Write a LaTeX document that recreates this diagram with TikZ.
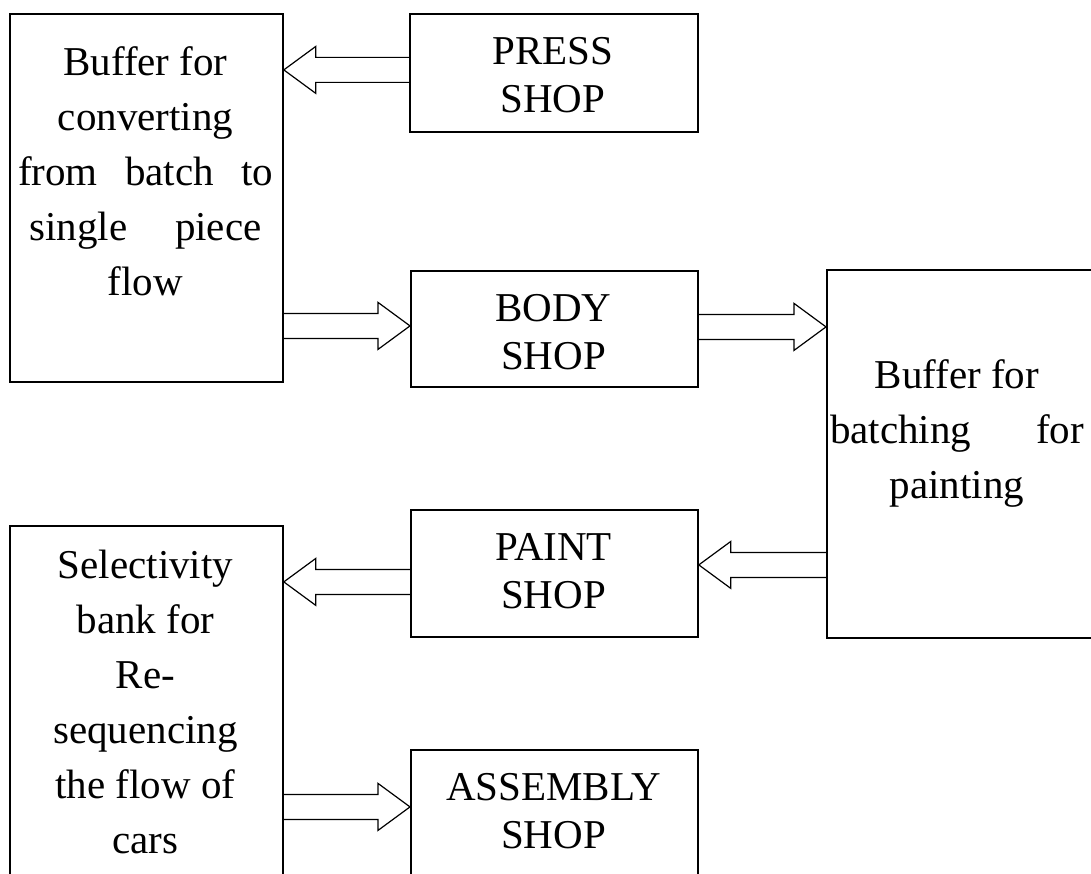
\documentclass[tikz,border=0pt]{standalone}
\usepackage{fontspec}
\setmainfont{Liberation Serif}
\usetikzlibrary{calc}
\tikzset{
  box/.style={draw, line width=1.8pt, rectangle, inner sep=0pt, anchor=north west},
  blk/.style={draw, line width=1.2pt, line join=miter},
  smalltxt/.style={font=\fontsize{41}{48}\selectfont, align=center, inner sep=0pt, anchor=north},
  talltxt/.style={font=\fontsize{41}{55}\selectfont, align=center, inner sep=0pt, anchor=north},
}
\newcommand\strt{\rule{0pt}{30pt}}
\newcommand\barrow[2]{%
  \draw[blk] let \p1=#1, \p2=#2, \p3=($#2!32pt!#1$) in
    (\x1,\y1+12.5pt) -- (\x3,\y1+12.5pt) -- (\x3,\y1+23.5pt) -- (\x2,\y1)
    -- (\x3,\y1-23.5pt) -- (\x3,\y1-12.5pt) -- (\x1,\y1-12.5pt);}
\begin{document}
\begin{tikzpicture}[x=1pt,y=-1pt]
\useasboundingbox (0,0) rectangle (1091,874);
% boxes
\node[box, minimum width=273pt, minimum height=368pt] (buf1) at (9,13) {};
\node[box, minimum width=288pt, minimum height=118pt] (press) at (409,13) {};
\node[box, minimum width=287pt, minimum height=116pt] (body) at (410,270) {};
\node[box, minimum width=270pt, minimum height=368pt] (buf2) at (826,269) {};
\node[box, minimum width=287pt, minimum height=127pt] (paint) at (410,509) {};
\node[box, minimum width=273pt, minimum height=360pt] (sel) at (9,525) {};
\node[box, minimum width=287pt, minimum height=140pt] (assy) at (410,749) {};
% texts
\node[talltxt] (t1) at (145.5,45) {\strt Buffer for\\converting\\\makebox[255pt][s]{from batch to}\\\makebox[232pt][s]{single piece}\\flow};
\node[smalltxt] (t2) at (553,34) {\strt PRESS\\SHOP};
\node[smalltxt] (t3) at (553.5,291) {\strt BODY\\SHOP};
\node[talltxt] (t4) at (957,358) {\strt Buffer for\\\makebox[254pt][s]{batching for}\\painting};
\node[smalltxt] (t5) at (553.5,530) {\strt PAINT\\SHOP};
\node[talltxt] (t6) at (145.5,548) {\strt Selectivity\\bank for\\Re-\\sequencing\\the flow of\\cars};
\node[smalltxt] (t7) at (553.5,770) {\strt ASSEMBLY\\SHOP};
% arrows
\coordinate (a1s) at ([yshift=3pt]press.west);
\coordinate (a1e) at (buf1.east |- a1s);
\barrow{(a1s)}{(a1e)}
\coordinate (a2e) at ([yshift=3pt]body.west);
\coordinate (a2s) at (buf1.east |- a2e);
\barrow{(a2s)}{(a2e)}
\coordinate (a3s) at ([yshift=2pt]body.east);
\coordinate (a3e) at (buf2.west |- a3s);
\barrow{(a3s)}{(a3e)}
\coordinate (a4e) at ([yshift=8.5pt]paint.east);
\coordinate (a4s) at (buf2.west |- a4e);
\barrow{(a4s)}{(a4e)}
\coordinate (a5s) at ([yshift=-8.5pt]paint.west);
\coordinate (a5e) at (sel.east |- a5s);
\barrow{(a5s)}{(a5e)}
\coordinate (a6e) at ([yshift=13pt]assy.west);
\coordinate (a6s) at (sel.east |- a6e);
\barrow{(a6s)}{(a6e)}
\end{tikzpicture}
\end{document}
